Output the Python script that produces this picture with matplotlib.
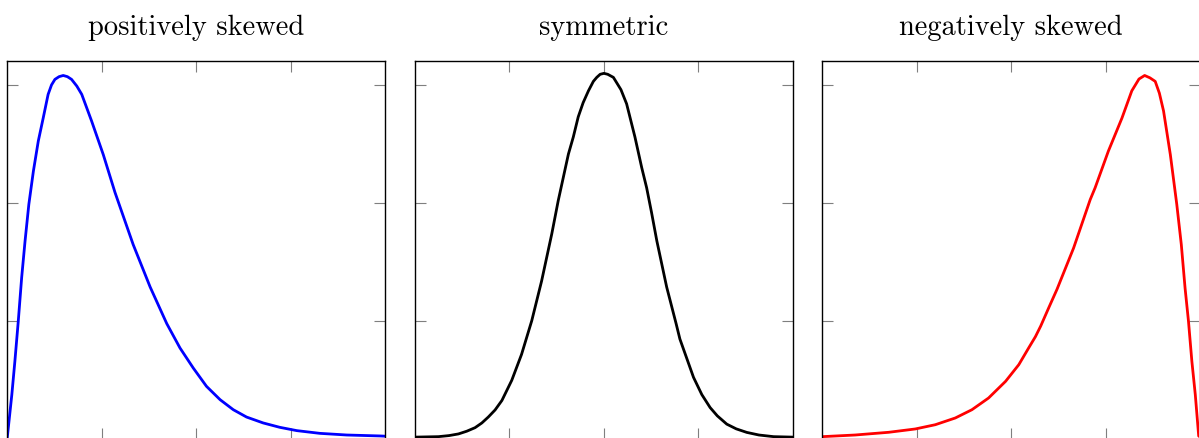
import matplotlib
matplotlib.use("Agg")
import matplotlib.pyplot as plt

plt.rcParams['font.family'] = 'cmr10'
plt.rcParams['axes.unicode_minus'] = False

titles = ["positively skewed", "symmetric", "negatively skewed"]
colors = ['#0000ff', 'black', '#ff0000']

# positively skewed (blue)
x_pos = [0.0, 0.012, 0.020, 0.029, 0.038, 0.047, 0.057, 0.069, 0.082, 0.095,
         0.108, 0.117, 0.126, 0.137, 0.148, 0.159, 0.170, 0.184, 0.197, 0.223,
         0.254, 0.285, 0.333, 0.378, 0.422, 0.457, 0.492, 0.527, 0.563, 0.598,
         0.633, 0.677, 0.721, 0.766, 0.827, 0.898, 0.986, 1.0]
y_pos = [0.02, 0.38, 0.66, 1.0, 1.37, 1.68, 1.99, 2.27, 2.525, 2.72,
         2.92, 3.0, 3.047, 3.07, 3.08, 3.07, 3.047, 2.99, 2.92, 2.695,
         2.41, 2.09, 1.65, 1.29, 0.98, 0.774, 0.605, 0.45, 0.337, 0.252,
         0.19, 0.14, 0.103, 0.075, 0.052, 0.038, 0.03, 0.028]

# symmetric (black)
x_sym = [0.0, 0.062, 0.09, 0.115, 0.137, 0.159, 0.177, 0.194, 0.212, 0.23,
         0.256, 0.282, 0.309, 0.335, 0.362, 0.379, 0.406, 0.419, 0.432, 0.445,
         0.459, 0.472, 0.481, 0.49, 0.5, 0.51, 0.525, 0.545, 0.56, 0.582,
         0.6, 0.613, 0.626, 0.64, 0.666, 0.691, 0.701, 0.737, 0.759, 0.781,
         0.80, 0.825, 0.85, 0.878, 0.91, 0.949, 1.0]
y_sym = [0.02, 0.024, 0.033, 0.047, 0.07, 0.10, 0.14, 0.19, 0.25, 0.33,
         0.50, 0.72, 1.005, 1.34, 1.74, 2.02, 2.415, 2.56, 2.73, 2.85,
         2.95, 3.03, 3.064, 3.09, 3.098, 3.09, 3.064, 2.96, 2.84, 2.56,
         2.3, 2.13, 1.92, 1.68, 1.29, 0.98, 0.85, 0.526, 0.38, 0.27,
         0.2, 0.13, 0.09, 0.06, 0.038, 0.024, 0.02]

# negatively skewed (red)
x_neg = [0.0, 0.087, 0.176, 0.246, 0.299, 0.352, 0.396, 0.44, 0.485, 0.52,
         0.546, 0.564, 0.578, 0.6, 0.621, 0.665, 0.709, 0.722, 0.757, 0.793,
         0.819, 0.838, 0.853, 0.867, 0.881, 0.892, 0.903, 0.921, 0.938, 0.950,
         0.960, 0.969, 0.978, 0.987, 0.996, 1.0]
y_neg = [0.024, 0.038, 0.061, 0.089, 0.125, 0.182, 0.252, 0.351, 0.492, 0.633,
         0.774, 0.87, 0.96, 1.12, 1.27, 1.62, 2.03, 2.13, 2.44, 2.72,
         2.95, 3.05, 3.08, 3.06, 3.03, 2.93, 2.78, 2.41, 1.99, 1.65,
         1.28, 1.0, 0.66, 0.38, 0.03, 0.02]

xs = [x_pos, x_sym, x_neg]
ys = [y_pos, y_sym, y_neg]

fig = plt.figure(figsize=(11.99, 4.39), dpi=100)
lefts = [0.00609, 0.3461, 0.6858]

for i in range(3):
    ax = fig.add_axes([lefts[i], -0.0034, 0.3152, 0.8615])
    ax.plot(xs[i], ys[i], color=colors[i], linewidth=2.0,
            solid_joinstyle='round')
    ax.set_xlim(0, 1)
    ax.set_ylim(0, 3.2)
    ax.set_xticks([0.25, 0.5, 0.75])
    ax.set_yticks([1, 2, 3])
    ax.tick_params(direction='in', length=8, width=0.8, color='#7f7f7f',
                   top=True, right=True, labelbottom=False, labelleft=False)
    for s in ax.spines.values():
        s.set_linewidth(1.0)
    ax.set_title(titles[i], fontsize=20.5, pad=20)

plt.savefig("out.png", dpi=100)
